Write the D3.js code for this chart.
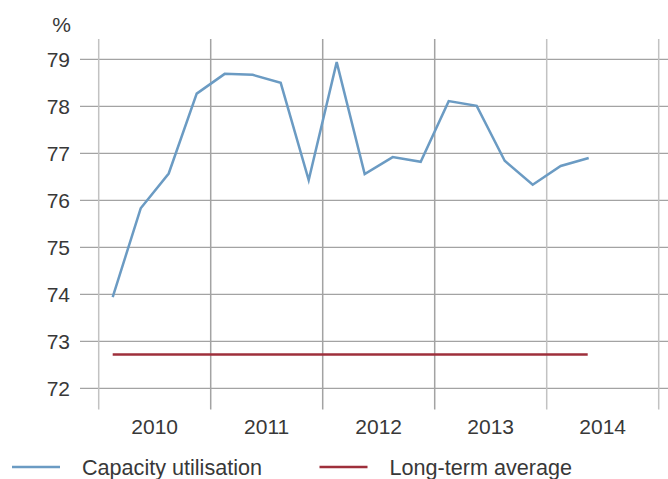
<!DOCTYPE html>
<html>
<head>
<meta charset="utf-8">
<script src="https://cdn.jsdelivr.net/npm/d3@7"></script>
<style>
  body { margin: 0; background: #fff; }
  text { font-family: "Liberation Sans", Arial, sans-serif; fill: #383838; }
</style>
</head>
<body>
<svg id="chart" width="668" height="479"></svg>
<script>
// Quarterly capacity utilisation, 2010 Q1 - 2014 Q2
const years = [2010, 2011, 2012, 2013, 2014];
const yTicks = [72, 73, 74, 75, 76, 77, 78, 79];
const capacity = [73.94, 75.83, 76.57, 78.27, 78.69, 78.67, 78.5, 76.43, 78.94,
                  76.56, 76.92, 76.82, 78.11, 78.01, 76.84, 76.33, 76.73, 76.9];
const longTermAvg = 72.72;
const legendItems = [
  { label: 'Capacity utilisation', color: '#6b9bc3' },
  { label: 'Long-term average', color: '#9e2f3b' }
];

const svg = d3.select('#chart');

const x = d3.scaleLinear().domain([2010, 2015]).range([98.7, 658.7]);
const y = d3.scaleLinear().domain([72, 79]).range([388.3, 59.3]);
const yBottom = 71.55, yTop = 79.43;

// quarter midpoint positions
const pts = capacity.map((v, i) => ({ t: 2010 + (i + 0.5) / 4, v }));

// horizontal grid
svg.append('g')
  .selectAll('line')
  .data(yTicks)
  .join('line')
  .attr('x1', 80).attr('x2', 668)
  .attr('y1', d => y(d)).attr('y2', d => y(d))
  .attr('stroke', '#a3a3a3')
  .attr('stroke-width', 1.3);

// vertical grid at year boundaries
const bounds = d3.range(2010, 2016);
svg.append('g')
  .selectAll('line')
  .data(bounds)
  .join('line')
  .attr('x1', d => x(d)).attr('x2', d => x(d))
  .attr('y1', y(yTop)).attr('y2', y(yBottom))
  .attr('stroke', (d, i) => (i === 0 || i >= 4) ? '#c2c2c2' : '#a3a3a3')
  .attr('stroke-width', 1.5);

// y labels
svg.append('g')
  .selectAll('text')
  .data(yTicks)
  .join('text')
  .attr('x', 70)
  .attr('y', d => y(d))
  .attr('dy', '0.36em')
  .attr('text-anchor', 'end')
  .attr('font-size', 21)
  .text(d => d);

svg.append('text')
  .attr('x', 71).attr('y', 24).attr('dy', '0.36em')
  .attr('text-anchor', 'end')
  .attr('font-size', 21)
  .text('%');

// year labels
svg.append('g')
  .selectAll('text')
  .data(years)
  .join('text')
  .attr('x', d => x(d + 0.5))
  .attr('y', 426.5)
  .attr('dy', '0.36em')
  .attr('text-anchor', 'middle')
  .attr('font-size', 21)
  .text(d => d);

// long-term average
svg.append('line')
  .attr('x1', x(pts[0].t)).attr('x2', x(pts[pts.length - 1].t) - 1)
  .attr('y1', y(longTermAvg)).attr('y2', y(longTermAvg))
  .attr('stroke', legendItems[1].color)
  .attr('stroke-width', 2.5);

// capacity line
const line = d3.line().x(d => x(d.t)).y(d => y(d.v));
svg.append('path')
  .datum(pts)
  .attr('d', line)
  .attr('fill', 'none')
  .attr('stroke', legendItems[0].color)
  .attr('stroke-width', 2.5)
  .attr('stroke-linejoin', 'miter');

// legend
const legendX = [12, 319.5];
const lg = svg.append('g')
  .selectAll('g')
  .data(legendItems)
  .join('g')
  .attr('transform', (d, i) => `translate(${legendX[i]},467)`);
lg.append('line')
  .attr('x1', 0).attr('x2', 48)
  .attr('stroke', d => d.color)
  .attr('stroke-width', 2.5);
lg.append('text')
  .attr('x', 70)
  .attr('dy', '0.36em')
  .attr('font-size', 21.6)
  .text(d => d.label);
</script>
</body>
</html>
